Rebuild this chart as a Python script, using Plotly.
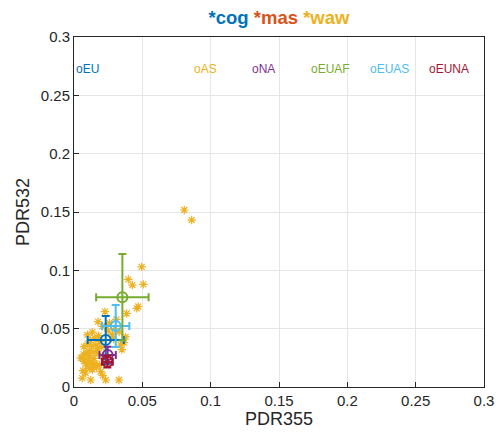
import plotly.graph_objects as go

# waw individual points (PDR355, PDR532)
waw_x = [0.0807, 0.0861, 0.0495, 0.0397, 0.0427, 0.0507, 0.0459, 0.0470, 0.0227, 0.0385,
         0.0176, 0.0207, 0.0098, 0.0134, 0.0073, 0.0110, 0.0061, 0.0085, 0.0146, 0.0170,
         0.0146, 0.0195, 0.0085, 0.0122, 0.0060, 0.0232, 0.0329, 0.0378, 0.0366, 0.0350,
         0.0120, 0.0150, 0.0180, 0.0100, 0.0130, 0.0160, 0.0190, 0.0090, 0.0110, 0.0140,
         0.0170, 0.0200, 0.0075, 0.0105, 0.0125, 0.0155, 0.0215, 0.0250, 0.0280, 0.0300,
         0.0260, 0.0310, 0.0330, 0.0240, 0.0070, 0.0095, 0.0115, 0.0135, 0.0165, 0.0185,
         0.0290, 0.0340, 0.0210, 0.0050, 0.0065]
waw_y = [0.1517, 0.1431, 0.1030, 0.0923, 0.0874, 0.0880, 0.0674, 0.0690, 0.0646, 0.0630,
         0.0560, 0.0520, 0.0446, 0.0470, 0.0346, 0.0310, 0.0246, 0.0203, 0.0246, 0.0290,
         0.0189, 0.0131, 0.0120, 0.0060, 0.0076, 0.0060, 0.0060, 0.0430, 0.0380, 0.0320,
         0.0400, 0.0420, 0.0440, 0.0370, 0.0350, 0.0360, 0.0390, 0.0290, 0.0270, 0.0300,
         0.0330, 0.0340, 0.0220, 0.0230, 0.0210, 0.0200, 0.0260, 0.0480, 0.0450, 0.0500,
         0.0550, 0.0580, 0.0470, 0.0520, 0.0280, 0.0180, 0.0160, 0.0150, 0.0170, 0.0190,
         0.0410, 0.0360, 0.0100, 0.0250, 0.0140]

# group means and standard deviations
groups = ["EU", "NA", "EUNA", "EUAS", "EUAF"]
colors = ["#0072BD", "#7E2F8E", "#A2142F", "#4DBEEE", "#77AC30"]
mean_x = [0.0232, 0.0246, 0.0244, 0.0305, 0.0354]
mean_y = [0.0403, 0.0274, 0.0217, 0.0523, 0.0769]
std_x = [0.0132, 0.0060, 0.0040, 0.0100, 0.0192]
std_y = [0.0205, 0.0070, 0.0050, 0.0180, 0.0370]

# legend-like labels
label_text = ["oEU", "oAS", "oNA", "oEUAF", "oEUAS", "oEUNA"]
label_colors = ["#0072BD", "#EDB120", "#7E2F8E", "#77AC30", "#4DBEEE", "#A2142F"]
label_x = [0.0, 0.086, 0.129, 0.172, 0.215, 0.258]
label_y = 0.2726

x_ticks = [0, 0.05, 0.1, 0.15, 0.2, 0.25, 0.3]
y_ticks = [0, 0.05, 0.1, 0.15, 0.2, 0.25, 0.3]

fig = go.Figure()
fig.add_trace(go.Scatter(
    x=waw_x, y=waw_y, mode="markers",
    marker=dict(symbol="asterisk-open", size=7, color="#EDB120",
                line=dict(color="#EDB120", width=1.2)),
    showlegend=False))

for g, c, mx, my, sx, sy in zip(groups, colors, mean_x, mean_y, std_x, std_y):
    fig.add_trace(go.Scatter(
        x=[mx], y=[my], mode="markers", name=g,
        marker=dict(symbol="circle-open", size=10, color=c, line=dict(color=c, width=2)),
        error_x=dict(type="data", array=[sx], color=c, thickness=2, width=4),
        error_y=dict(type="data", array=[sy], color=c, thickness=2, width=4),
        showlegend=False))

for t, c, lx in zip(label_text, label_colors, label_x):
    fig.add_annotation(x=lx, y=label_y, text=t, showarrow=False, xanchor="left",
                       yanchor="middle", font=dict(color=c, size=12, family="Liberation Sans"))

axis_common = dict(range=[0, 0.3], showgrid=True, gridcolor="#E6E6E6", gridwidth=1,
                   zeroline=False, showline=True, linecolor="#262626", linewidth=1,
                   mirror=True, ticks="inside", ticklen=5, tickcolor="#262626",
                   automargin=False,
                   tickfont=dict(size=15, color="#262626", family="Liberation Sans"),
                   title_font=dict(size=18, color="#262626", family="Liberation Sans"))

fig.update_xaxes(tickvals=x_ticks, ticktext=[f"{v:g}" for v in x_ticks],
                 title_text="PDR355", title_standoff=2, **axis_common)
fig.update_yaxes(tickvals=y_ticks, ticktext=[f"{v:g}" for v in y_ticks],
                 title_text="PDR532", title_standoff=6, **axis_common)

fig.update_layout(
    width=498, height=441,
    margin=dict(l=74, r=14, t=37, b=54),
    plot_bgcolor="white", paper_bgcolor="white",
    title=dict(
        text='<b><span style="color:#0072BD">*cog</span> <span style="color:#D95319">*mas</span> <span style="color:#EDB120">*waw</span></b>',
        x=(74 + 484) / 2 / 498, xanchor="center", y=1 - 18 / 441, yanchor="middle",
        font=dict(size=18.5, family="Liberation Sans")),
)

fig.write_html("out.html")
